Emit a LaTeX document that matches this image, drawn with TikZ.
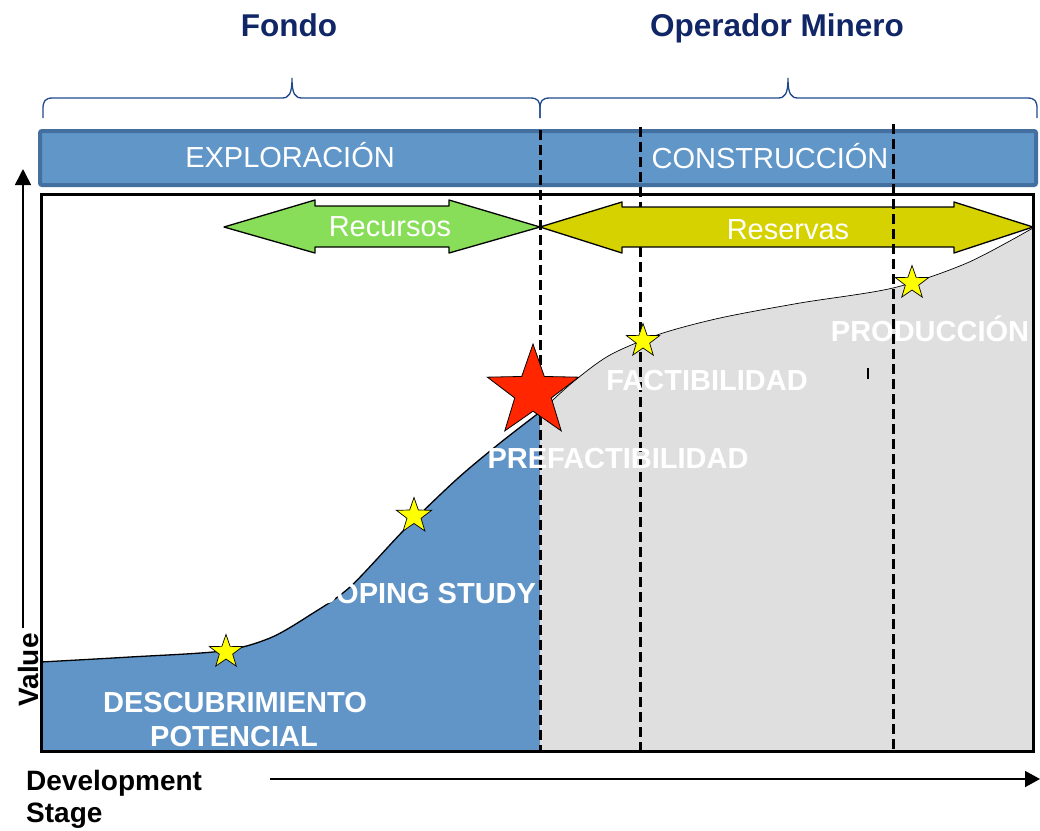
\documentclass[tikz,border=0pt]{standalone}
\usepackage{fontspec}
\setmainfont{Liberation Sans}
\usetikzlibrary{shapes.geometric,arrows.meta}

\begin{document}
\begin{tikzpicture}[x=1pt,y=-1pt,
    ystar/.style={star,star points=5,star point ratio=2.5,draw=black,line width=0.7pt,fill=staryellow,minimum size=35pt,inner sep=0pt},
    stagelbl/.style={text=white,font=\bfseries\fontsize{29}{30}\selectfont,anchor=base,inner sep=0pt},
    barlbl/.style={text=white,font=\fontsize{29}{30}\selectfont,anchor=base,inner sep=0pt},
    hdr/.style={text=navy,font=\bfseries\fontsize{31.5}{33}\selectfont,anchor=base,inner sep=0pt},
    axlbl/.style={font=\bfseries\fontsize{28}{32}\selectfont,inner sep=0pt},
    cutline/.style={line width=3pt,dash pattern=on 10pt off 5pt},
    bracket/.style={draw=bracecol,line width=1.3pt},
    dblarrow/.style={line width=1.3pt,line join=round}]
    \useasboundingbox (0,0) rectangle (1040,830);%

    % Changing colors
    \definecolor{navy}{RGB}{16,38,102}%
    \definecolor{bracecol}{RGB}{31,73,140}%
    \definecolor{barblue}{RGB}{97,150,201}%
    \definecolor{barline}{RGB}{68,112,160}%
    \definecolor{areablue}{RGB}{97,149,199}%
    \definecolor{areagray}{RGB}{223,223,223}%
    \definecolor{recgreen}{RGB}{136,222,88}%
    \definecolor{resyellow}{RGB}{214,210,0}%
    \definecolor{starred}{RGB}{255,38,0}%
    \definecolor{staryellow}{RGB}{255,255,0}%

    % Headers
    \node[hdr] (fondo) at (289,36) {Fondo};%
    \node[hdr] (operador) at (777,36) {Operador Minero};%

    % Drawing bracket Fondo
    \draw[bracket] (43,118) -- (43,109) .. controls (43,101) and (45,98) .. (53,98) -- (282,98)
        .. controls (289,98) and (292,94) .. (292,78) .. controls (292,94) and (295,98) .. (302,98)
        -- (530,98) .. controls (538,98) and (540,101) .. (540,109) -- (540,118);%
    % Drawing bracket Operador Minero
    \draw[bracket] (540,118) -- (540,109) .. controls (540,101) and (542,98) .. (550,98) -- (778,98)
        .. controls (785,98) and (788,94) .. (788,78) .. controls (788,94) and (791,98) .. (798,98)
        -- (1027,98) .. controls (1035,98) and (1037,101) .. (1037,109) -- (1037,118);%

    % Drawing stage bar
    \draw[line width=4pt,draw=barline,fill=barblue,rounded corners=2pt] (40,131) rectangle (1036,185);%
    \node[barlbl] (exploracion) at (290,167) {EXPLORACIÓN};%
    \node[barlbl] (construccion) at (770,168) {CONSTRUCCIÓN};%

    % Filling area under curve, exploration part
    \fill[areablue] plot[smooth] coordinates {(41,662) (130,657) (222,651) (270,638) (310,615) (350,587) (405,529) (457,479) (500,443) (540,412)}
        -- (540,751) -- (41,751) -- cycle;%
    % Filling area under curve, construction part
    \fill[areagray] plot[smooth] coordinates {(540,412) (573,382) (610,355) (660,334) (720,318) (800,303) (893,288) (967,263) (1033,228)}
        -- (1033,751) -- (540,751) -- cycle;%

    % Drawing value curve
    \draw[line width=1.3pt] plot[smooth] coordinates {(41,662) (130,657) (222,651) (270,638) (310,615) (350,587) (405,529) (457,479) (500,443) (540,412)};%
    \draw[line width=0.7pt] plot[smooth] coordinates {(540,412) (573,382) (610,355) (660,334) (720,318) (800,303) (893,288) (967,263) (1033,228)};%

    % Drawing cut line Factibilidad
    \draw[cutline] (640,127) -- (640,751);%

    % Drawing arrow Recursos
    \filldraw[dblarrow,fill=recgreen] (224,227) -- (315,200) -- (315,206) -- (449,206) -- (449,200) -- (540,227)
        -- (449,253) -- (449,247) -- (315,247) -- (315,253) -- cycle;%
    \node[barlbl] (recursos) at (390,236) {Recursos};%

    % Drawing arrow Reservas
    \filldraw[dblarrow,fill=resyellow] (540,227) -- (622,202) -- (622,207) -- (954,207) -- (954,202) -- (1033,227)
        -- (954,253) -- (954,247) -- (622,247) -- (622,253) -- cycle;%
    \node[barlbl] (reservas) at (788,239) {Reservas};%

    % Drawing cut lines Prefactibilidad and Produccion
    \draw[cutline] (540,130) -- (540,751);%
    \draw[cutline] (893,124) -- (893,751);%
    \draw[line width=1.8pt] (868,368) -- (868,379);%

    % Drawing frame
    \draw[line width=3pt] (41.5,194.5) rectangle (1033.5,751.5);%

    % Marking stars
    \node[ystar] (sdesc) at (226,652) {};%
    \node[ystar,minimum size=37pt] (sscop) at (414,516) {};%
    \node[ystar] (sfact) at (643,341) {};%
    \node[ystar] (sprod) at (912,283) {};%
    \node[star,star points=5,star point ratio=2.5,draw=black,line width=0.8pt,fill=starred,minimum size=96pt,inner sep=0pt] (sprefact) at (533,392) {};%

    % Stage labels
    \node[stagelbl] (descub) at (235,712) {DESCUBRIMIENTO};%
    \node[stagelbl] (potencial) at (234,746) {POTENCIAL};%
    \node[stagelbl] (scoping) at (416,603) {SCOPING STUDY};%
    \node[stagelbl] (prefact) at (618,468) {PREFACTIBILIDAD};%
    \node[stagelbl] (fact) at (707,390) {FACTIBILIDAD};%
    \node[stagelbl] (prod) at (930,341) {PRODUCCIÓN};%

    % Drawing axes
    \coordinate (vbot) at (23,628);%
    \coordinate (vtop) at (23,169);%
    \draw[line width=1.6pt,-{Triangle[length=16pt,width=16pt]}] (vbot) -- (vtop);%
    \node[axlbl,rotate=90,anchor=base] (value) at (38,670) {Value};%
    \coordinate (hleft) at (270,779);%
    \coordinate (hright) at (1040,779);%
    \draw[line width=1.6pt,-{Triangle[length=15pt,width=16pt]}] (hleft) -- (hright);%
    \node[axlbl,anchor=north west,align=left] (stage) at (26,770) {Development\\Stage};%
\end{tikzpicture}
\end{document}
